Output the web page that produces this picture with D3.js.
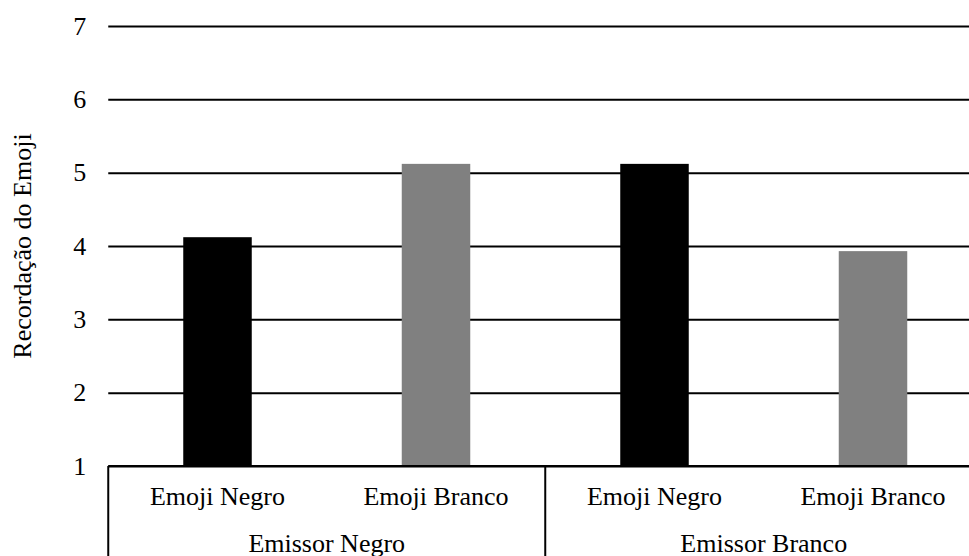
<!DOCTYPE html>
<html>
<head>
<meta charset="utf-8">
<script src="https://cdn.jsdelivr.net/npm/d3@7"></script>
<style>
  body { margin: 0; background: #fff; overflow: hidden; }
  text { font-family: "Liberation Serif", "Times New Roman", serif; fill: #000; }
</style>
</head>
<body>
<div id="chart"></div>
<script>
// data
const groups = ["Emissor Negro", "Emissor Branco"];
const emojis = ["Emoji Negro", "Emoji Branco"];
const emojiNegroValues = [4.12, 5.12];
const emojiBrancoValues = [5.12, 3.93];
const yTicks = [1, 2, 3, 4, 5, 6, 7];
const barColors = ["#000000", "#808080"];

const width = 969, height = 556;
const plotLeft = 108.25, plotRight = 982.25, plotTop = 26, plotBottom = 466;
const fontSize = 26;

const svg = d3.select("#chart")
  .append("svg")
  .attr("width", width)
  .attr("height", height);

// scales
const yScale = d3.scaleLinear().domain([1, 7]).range([plotBottom, plotTop]);

const xGroup = d3.scaleBand()
  .domain(groups)
  .range([plotLeft, plotRight])
  .padding(0);

const pInner = 1 - 68.5 / 218.5;
const xSub = d3.scaleBand()
  .domain(emojis)
  .range([0, xGroup.bandwidth()])
  .paddingInner(pInner)
  .paddingOuter(pInner / 2);

// gridlines + tick labels
const yAxis = svg.append("g")
  .attr("transform", "translate(" + plotLeft + ",0)")
  .call(d3.axisLeft(yScale)
    .tickValues(yTicks)
    .tickSize(-(plotRight - plotLeft))
    .tickPadding(22)
    .tickFormat(d3.format("d")));
yAxis.select(".domain").remove();
yAxis.selectAll(".tick line")
  .attr("stroke", "#000")
  .attr("stroke-width", 2);
yAxis.selectAll(".tick text")
  .style("font-size", fontSize + "px")
  .style("font-family", "'Liberation Serif', 'Times New Roman', serif");

// bars
const rows = [];
groups.forEach((g, i) => {
  rows.push({ group: g, emoji: emojis[0], value: emojiNegroValues[i], color: barColors[0] });
  rows.push({ group: g, emoji: emojis[1], value: emojiBrancoValues[i], color: barColors[1] });
});

svg.append("g")
  .selectAll("rect")
  .data(rows)
  .enter()
  .append("rect")
  .attr("x", d => xGroup(d.group) + xSub(d.emoji))
  .attr("y", d => yScale(d.value))
  .attr("width", xSub.bandwidth())
  .attr("height", d => yScale(1) - yScale(d.value))
  .attr("fill", d => d.color);

// category axis
svg.append("line")
  .attr("x1", plotLeft).attr("x2", plotRight)
  .attr("y1", plotBottom).attr("y2", plotBottom)
  .attr("stroke", "#000")
  .attr("stroke-width", 2);

const seps = groups.map(g => xGroup(g)).concat([plotRight]);
svg.append("g")
  .selectAll("line")
  .data(seps)
  .enter()
  .append("line")
  .attr("x1", d => d).attr("x2", d => d)
  .attr("y1", plotBottom).attr("y2", height)
  .attr("stroke", "#000")
  .attr("stroke-width", 2);

groups.forEach(g => {
  svg.append("g")
    .selectAll("text")
    .data(emojis)
    .enter()
    .append("text")
    .attr("x", d => xGroup(g) + xSub(d) + xSub.bandwidth() / 2)
    .attr("y", 505)
    .attr("text-anchor", "middle")
    .style("font-size", fontSize + "px")
    .text(d => d);
});

svg.append("g")
  .selectAll("text")
  .data(groups)
  .enter()
  .append("text")
  .attr("x", d => xGroup(d) + xGroup.bandwidth() / 2)
  .attr("y", 552)
  .attr("text-anchor", "middle")
  .style("font-size", fontSize + "px")
  .text(d => d);

// y axis title
svg.append("text")
  .attr("transform", "translate(31," + ((plotTop + plotBottom) / 2) + ") rotate(-90)")
  .attr("text-anchor", "middle")
  .style("font-size", fontSize + "px")
  .text("Recordação do Emoji");
</script>
</body>
</html>
